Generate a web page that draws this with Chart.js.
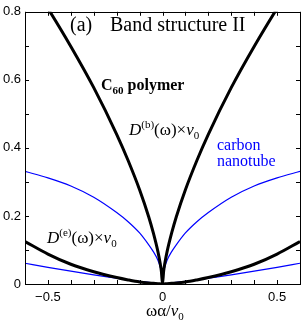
<!DOCTYPE html>
<html>
<head>
<meta charset="utf-8">
<script src="https://cdn.jsdelivr.net/npm/chart.js@4/dist/chart.umd.min.js"></script>
<style>
  html, body { margin: 0; padding: 0; background: #fff; }
  #wrap { width: 306px; height: 327px; }
</style>
</head>
<body>
<div id="wrap"><canvas id="chart1" width="306" height="327"></canvas></div>
<script>
// omega*alpha/v0 sample positions
const freq = [-0.6, -0.5, -0.4, -0.3, -0.2, -0.15, -0.1, -0.06, -0.04, -0.02, -0.01, -0.005, 0,
  0.005, 0.01, 0.02, 0.04, 0.06, 0.1, 0.15, 0.2, 0.3, 0.4, 0.5, 0.6];

// C60 polymer, D(b)
const c60Bulk = [0.915, 0.81, 0.698, 0.577, 0.44, 0.363, 0.277, 0.197, 0.15, 0.095, 0.06, 0.038, 0,
  0.038, 0.06, 0.095, 0.15, 0.197, 0.277, 0.363, 0.44, 0.577, 0.698, 0.81, 0.915];
// C60 polymer, D(e)
const c60Edge = [0.125, 0.088, 0.058, 0.036, 0.019, 0.012, 0.006, 0.003, 0.002, 0.001, 0.0005, 0.0002, 0,
  0.0002, 0.0005, 0.001, 0.002, 0.003, 0.006, 0.012, 0.019, 0.036, 0.058, 0.088, 0.125];
// carbon nanotube, bulk
const tubeBulk = [0.331, 0.312, 0.288, 0.255, 0.21, 0.183, 0.15, 0.115, 0.095, 0.07, 0.05, 0.035, 0,
  0.035, 0.05, 0.07, 0.095, 0.115, 0.15, 0.183, 0.21, 0.255, 0.288, 0.312, 0.331];
// carbon nanotube, edge
const tubeEdge = [0.061, 0.049, 0.038, 0.027, 0.017, 0.012, 0.008, 0.0047, 0.003, 0.0015, 0.0007, 0.0003, 0,
  0.0003, 0.0007, 0.0015, 0.003, 0.0047, 0.008, 0.012, 0.017, 0.027, 0.038, 0.049, 0.061];

const xLabels = [-0.5, 0, 0.5];
const yLabels = [0, 0.2, 0.4, 0.6, 0.8];

const black = "#000000";
const blue = "#0000ff";
const serif = "'Liberation Serif', 'Times New Roman', serif";
const sans = "'Liberation Sans', Arial, sans-serif";

function pts(ys) {
  return freq.map((x, i) => ({ x: x, y: ys[i] }));
}

function lineSet(ys, color, width) {
  return {
    data: pts(ys),
    borderColor: color,
    borderWidth: width,
    pointRadius: 0,
    fill: false,
    cubicInterpolationMode: "monotone",
    clip: 0,
  };
}

function fmt(v) {
  const r = Math.round(v * 10) / 10;
  if (r === 0) return "0";
  return (r < 0 ? "\u2212" : "") + Math.abs(r).toString();
}

function isLabel(list, v) {
  return list.some((l) => Math.abs(l - v) < 1e-6);
}

// text made of runs: [text, font, dy]
function runs(ctx, x, y, parts, color) {
  ctx.fillStyle = color;
  ctx.textAlign = "left";
  ctx.textBaseline = "alphabetic";
  let cx = x;
  parts.forEach(([t, f, dy]) => {
    ctx.font = f;
    ctx.fillText(t, cx, y + (dy || 0));
    cx += ctx.measureText(t).width;
  });
}

const decor = {
  id: "decor",
  afterDraw(chart) {
    const ctx = chart.ctx;
    const a = chart.chartArea;
    const xs = chart.scales.x;
    const ys = chart.scales.y;
    ctx.save();
    ctx.strokeStyle = black;
    ctx.lineWidth = 1;
    // frame
    ctx.strokeRect(Math.round(a.left) + 0.5, Math.round(a.top) + 0.5,
      Math.round(a.right - a.left), Math.round(a.bottom - a.top));
    // inward ticks, all four sides
    ctx.beginPath();
    xs.ticks.forEach((t) => {
      const px = Math.round(xs.getPixelForValue(t.value)) + 0.5;
      ctx.moveTo(px, a.bottom); ctx.lineTo(px, a.bottom - 4);
      ctx.moveTo(px, a.top); ctx.lineTo(px, a.top + 4);
    });
    ys.ticks.forEach((t) => {
      const py = Math.round(ys.getPixelForValue(t.value)) + 0.5;
      ctx.moveTo(a.left, py); ctx.lineTo(a.left + 4, py);
      ctx.moveTo(a.right, py); ctx.lineTo(a.right - 4, py);
    });
    ctx.stroke();

    // annotations
    ctx.fillStyle = black;
    ctx.font = "20px " + serif;
    ctx.fillText("(a)", 70, 31);
    ctx.fillText("Band structure II", 110, 31);

    runs(ctx, 101, 90, [
      ["C", "bold 16px " + serif, 0],
      ["60", "bold 11px " + serif, 4],
      [" polymer", "bold 16px " + serif, 0],
    ], black);

    runs(ctx, 129, 135, [
      ["D", "italic 17px " + serif, 0],
      ["(b)", "11px " + serif, -7],
      ["(\u03c9)\u00d7", "17px " + serif, 0],
      ["v", "italic 17px " + serif, 0],
      ["0", "11px " + serif, 4],
    ], black);

    runs(ctx, 47, 243, [
      ["D", "italic 17px " + serif, 0],
      ["(e)", "11px " + serif, -7],
      ["(\u03c9)\u00d7", "17px " + serif, 0],
      ["v", "italic 17px " + serif, 0],
      ["0", "11px " + serif, 4],
    ], black);

    ctx.fillStyle = blue;
    ctx.font = "16px " + serif;
    ctx.fillText("carbon", 217, 150);
    ctx.fillText("nanotube", 217, 166);

    // x axis title
    runs(ctx, 146, 316, [
      ["\u03c9\u03b1/", "17px " + serif, 0],
      ["v", "italic 17px " + serif, 0],
      ["0", "11px " + serif, 4],
    ], black);
    ctx.restore();
  },
};

const ctx = document.getElementById("chart1");

const chart = new Chart(ctx, {
  type: "line",
  data: {
    datasets: [
      lineSet(c60Bulk, black, 3),
      lineSet(c60Edge, black, 3),
      lineSet(tubeBulk, blue, 1.2),
      lineSet(tubeEdge, blue, 1.2),
    ],
  },
  options: {
    responsive: false,
    animation: false,
    layout: { padding: { top: 8, right: 4, left: 0, bottom: 0 } },
    plugins: {
      legend: { display: false },
      tooltip: { enabled: false },
    },
    scales: {
      x: {
        type: "linear",
        min: -0.6,
        max: 0.6,
        afterFit: (s) => { s.height = 43; },
        grid: { display: false, drawTicks: false },
        border: { display: false },
        ticks: {
          stepSize: 0.1,
          autoSkip: false,
          maxRotation: 0,
          padding: 6,
          color: black,
          font: { family: sans, size: 13 },
          callback: (v) => (isLabel(xLabels, v) ? fmt(v) : ""),
        },
      },
      y: {
        type: "linear",
        min: 0,
        max: 0.8,
        afterFit: (s) => { s.width = 25; },
        grid: { display: false, drawTicks: false },
        border: { display: false },
        ticks: {
          stepSize: 0.1,
          autoSkip: false,
          padding: 4,
          color: black,
          font: { family: sans, size: 13 },
          callback: (v) => (isLabel(yLabels, v) ? fmt(v) : ""),
        },
      },
    },
  },
  plugins: [decor],
});
</script>
</body>
</html>
